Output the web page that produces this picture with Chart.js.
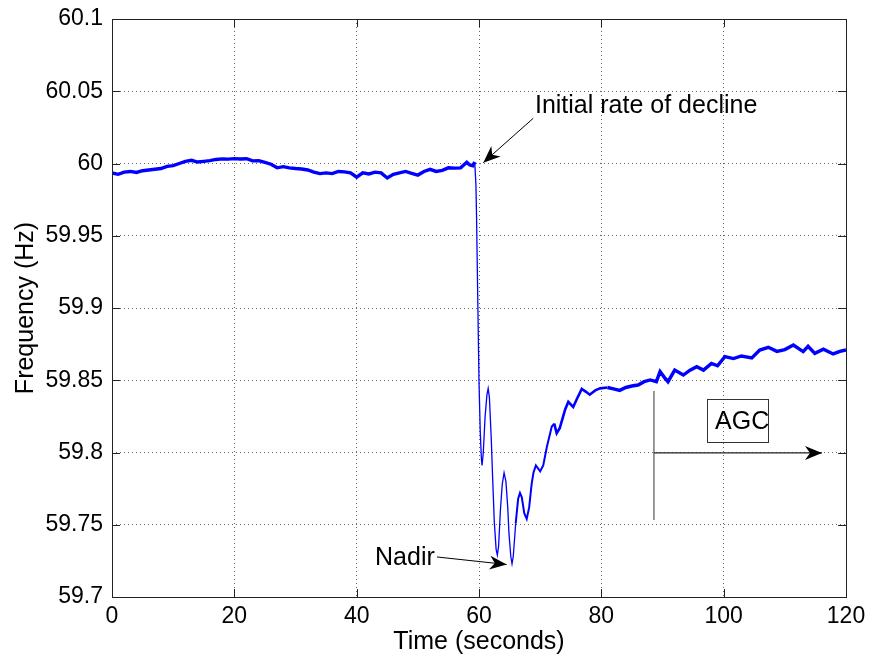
<!DOCTYPE html>
<html>
<head>
<meta charset="utf-8">
<script src="https://cdn.jsdelivr.net/npm/chart.js@4/dist/chart.umd.min.js"></script>
<style>
  html, body { margin: 0; padding: 0; background: #fff; }
  #wrap { width: 872px; height: 662px; }
</style>
</head>
<body>
<div id="wrap"><canvas id="freq-chart" width="872" height="662"></canvas></div>
<script>
const timeSec = [
  0, 1, 2, 3, 4, 5, 6, 7, 8, 9, 10, 11, 12, 13, 14, 15, 16, 17, 18, 19,
  20, 21, 22, 23, 24, 25, 26, 27, 28, 29, 30, 31, 32, 33, 34, 35, 36, 37, 38, 39,
  40, 41, 42, 43, 44, 45, 46, 47, 48, 49, 50, 51, 52, 53, 54, 55, 56, 57, 58, 58.5,
  59, 59.3, 59.5, 59.6, 59.8, 60, 60.2, 60.4, 60.5, 60.7, 61, 61.3, 61.5, 61.7, 62,
  62.2, 62.5, 62.8, 63, 63.2, 63.5, 63.8, 64.1, 64.4, 64.7, 64.9, 65.2, 65.4, 65.6,
  66, 66.4, 66.7, 67, 67.4, 67.8, 68.2, 68.6, 68.9, 69.3, 70, 70.5, 71.1,
  71.9, 72.3, 72.7, 73.2, 74.1, 74.6, 75.4, 76, 76.8, 77.5, 78.1, 79, 79.8,
  81, 82, 83, 84, 85, 86, 87, 88, 89, 89.6, 90.3, 90.9, 92, 93.4, 94.5, 95.6, 96.7,
  98, 99, 100.2, 101.6, 102.9, 104.6, 105.9, 107.3, 108.7, 110, 111.4, 113, 113.8,
  114.9, 116.3, 117.9, 119, 120,
];
const freqHz = [
  59.9935, 59.9925, 59.994, 59.9945, 59.9938, 59.995, 59.9955, 59.996, 59.9965, 59.998,
  59.9985, 60.0, 60.0015, 60.0022, 60.001, 60.0015, 60.002, 60.0028, 60.0032, 60.003,
  60.0034, 60.0031, 60.0033, 60.0018, 60.002, 60.0008, 59.9995, 59.997, 59.9978, 59.997,
  59.9965, 59.9962, 59.9955, 59.994, 59.993, 59.9935, 59.993, 59.9945, 59.9942, 59.9935,
  59.9905, 59.9935, 59.9928, 59.994, 59.9935, 59.990, 59.9925, 59.9935, 59.9945, 59.9932,
  59.992, 59.9945, 59.996, 59.9945, 59.9952, 59.997, 59.9968, 59.997, 60.0008, 59.999,
  59.9985, 60.001, 59.985, 59.963, 59.9055, 59.849, 59.815, 59.795, 59.791, 59.80, 59.825,
  59.840, 59.8443, 59.838, 59.810,
  59.786, 59.752, 59.733, 59.729, 59.735, 59.76, 59.778, 59.786, 59.780, 59.762, 59.744,
  59.728, 59.723, 59.728,
  59.751, 59.768, 59.772, 59.769, 59.758, 59.754, 59.762, 59.778, 59.786, 59.791, 59.787,
  59.791, 59.804,
  59.818, 59.82, 59.8133, 59.8168, 59.830, 59.835, 59.8315, 59.837, 59.844, 59.842,
  59.840, 59.843, 59.8444,
  59.845, 59.844, 59.843, 59.845, 59.846, 59.8467, 59.849, 59.8502, 59.849, 59.856,
  59.852, 59.849, 59.857, 59.8536, 59.857, 59.8594, 59.857,
  59.8617, 59.860, 59.8663, 59.865, 59.8668, 59.8655, 59.8709, 59.8728, 59.870, 59.8712,
  59.8744, 59.8698, 59.8735,
  59.8686, 59.8715, 59.8682, 59.870, 59.871,
];
const xTicks = [0, 20, 40, 60, 80, 100, 120];
const yTicks = [59.7, 59.75, 59.8, 59.85, 59.9, 59.95, 60, 60.05, 60.1];

const points = timeSec.map((t, i) => ({ x: t, y: freqHz[i] }));
const FONT = "'Liberation Sans', Arial, Helvetica, sans-serif";

// draw a MATLAB style arrow head at (x2, y2) coming from (x1, y1)
function arrowHead(ctx, x1, y1, x2, y2) {
  const a = Math.atan2(y2 - y1, x2 - x1);
  const len = 17;
  const half = 7;
  ctx.save();
  ctx.translate(x2, y2);
  ctx.rotate(a);
  ctx.beginPath();
  ctx.moveTo(0, 0);
  ctx.lineTo(-len, -half);
  ctx.lineTo(-len * 0.7, 0);
  ctx.lineTo(-len, half);
  ctx.closePath();
  ctx.fillStyle = '#000';
  ctx.fill();
  ctx.restore();
}

// Frame, inward ticks and text annotations
const matlabLook = {
  id: 'matlabLook',
  afterDatasetsDraw(chart) {
    const { ctx, chartArea: a, scales: { x, y } } = chart;
    const px = (v) => x.getPixelForValue(v);
    const py = (v) => y.getPixelForValue(v);
    ctx.save();

    // annotations
    ctx.font = `25px ${FONT}`;
    ctx.fillStyle = '#000';
    ctx.textBaseline = 'alphabetic';
    ctx.textAlign = 'left';
    ctx.fillText('Initial rate of decline', px(69.15), py(60.035));
    ctx.fillText('Nadir', px(43.0), py(59.7222));

    ctx.strokeStyle = '#000';
    ctx.lineWidth = 1;
    let x1 = px(68.87); let y1 = py(60.0313);
    let x2 = px(60.7); let y2 = py(60.0006);
    ctx.beginPath(); ctx.moveTo(x1, y1); ctx.lineTo(x2, y2); ctx.stroke();
    arrowHead(ctx, x1, y1, x2, y2);

    x1 = px(53.13); y1 = py(59.7277);
    x2 = px(64.52); y2 = py(59.7225);
    ctx.beginPath(); ctx.moveTo(x1, y1); ctx.lineTo(x2, y2); ctx.stroke();
    arrowHead(ctx, x1, y1, x2, y2);

    // AGC marker
    ctx.strokeStyle = '#777';
    ctx.lineWidth = 1.5;
    ctx.beginPath();
    ctx.moveTo(px(88.6), py(59.8426));
    ctx.lineTo(px(88.6), py(59.7533));
    ctx.stroke();
    ctx.strokeStyle = '#222';
    ctx.lineWidth = 1.2;
    x1 = px(88.6); y1 = py(59.7997);
    x2 = px(116.07); y2 = py(59.7997);
    ctx.beginPath(); ctx.moveTo(x1, y1); ctx.lineTo(x2, y2); ctx.stroke();
    arrowHead(ctx, x1, y1, x2, y2);

    ctx.strokeStyle = '#333';
    ctx.lineWidth = 1;
    const bx = Math.round(px(97.2)) + 0.5;
    const by = Math.round(py(59.837)) + 0.5;
    ctx.strokeRect(bx, by, Math.round(px(107.1) - px(97.2)), Math.round(py(59.8073) - py(59.837)));
    ctx.fillText('AGC', px(98.6), py(59.8163));

    // box and inward ticks
    ctx.strokeStyle = '#222';
    ctx.lineWidth = 1;
    ctx.strokeRect(Math.round(a.left) + 0.5, Math.round(a.top) + 0.5,
      Math.round(a.width), Math.round(a.height));
    const tl = 8;
    ctx.beginPath();
    xTicks.forEach((v) => {
      const p = Math.round(px(v)) + 0.5;
      ctx.moveTo(p, a.bottom); ctx.lineTo(p, a.bottom - tl);
      ctx.moveTo(p, a.top); ctx.lineTo(p, a.top + tl);
    });
    yTicks.forEach((v) => {
      const p = Math.round(py(v)) + 0.5;
      ctx.moveTo(a.left, p); ctx.lineTo(a.left + tl, p);
      ctx.moveTo(a.right, p); ctx.lineTo(a.right - tl, p);
    });
    ctx.stroke();
    ctx.restore();
  },
};

Chart.defaults.font.family = FONT;
Chart.defaults.color = '#000';

const traceWidth = (ctx) => {
  const t = ctx.p0.parsed.x;
  if (t >= 59.3 && t < 66) return 1.3;
  if (t >= 66 && t < 72) return 2;
  if (t >= 72 && t < 80) return 2.6;
  return 3.4;
};

new Chart(document.getElementById('freq-chart').getContext('2d'), {
  type: 'line',
  data: {
    datasets: [{
      data: points,
      borderColor: '#0000ff',
      borderWidth: 3.4,
      pointRadius: 0,
      tension: 0,
      segment: { borderWidth: traceWidth },
    }],
  },
  options: {
    responsive: false,
    animation: false,
    layout: { padding: { top: 19, right: 26, left: 0, bottom: 0 } },
    plugins: { legend: { display: false }, tooltip: { enabled: false } },
    scales: {
      x: {
        type: 'linear',
        min: 0,
        max: 120,
        afterFit: (s) => { s.height = 65; s.paddingLeft = 0; s.paddingRight = 0; },
        afterBuildTicks: (s) => { s.ticks = xTicks.map((v) => ({ value: v })); },
        ticks: { font: { size: 23 }, padding: 6, maxRotation: 0 },
        grid: { color: 'rgba(0,0,0,0.6)', lineWidth: 1, drawTicks: false },
        border: { display: false, dash: [1, 3] },
        title: { display: true, text: 'Time (seconds)', font: { size: 25 }, padding: { top: 0, bottom: 5 } },
      },
      y: {
        min: 59.7,
        max: 60.1,
        afterFit: (s) => { s.width = 112; s.paddingTop = 0; s.paddingBottom = 0; },
        afterBuildTicks: (s) => { s.ticks = yTicks.map((v) => ({ value: v })); },
        ticks: {
          font: { size: 23 },
          padding: 9,
          callback: (v) => String(Number(v.toFixed(2))),
        },
        grid: { color: 'rgba(0,0,0,0.6)', lineWidth: 1, drawTicks: false },
        border: { display: false, dash: [1, 3] },
        title: { display: true, text: 'Frequency (Hz)', font: { size: 25 }, padding: { top: 11, bottom: 0 } },
      },
    },
  },
  plugins: [matlabLook],
});
</script>
</body>
</html>
